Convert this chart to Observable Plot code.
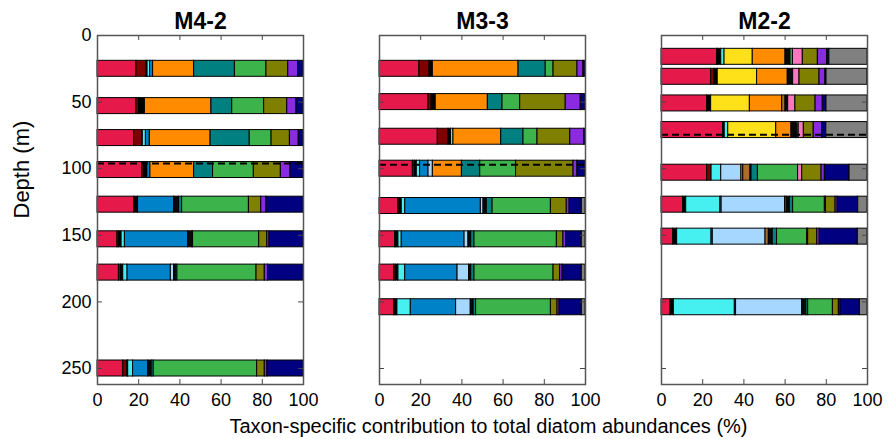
<!DOCTYPE html>
<html>
<head>
<meta charset="utf-8">
<script src="https://cdn.jsdelivr.net/npm/d3@7"></script>
<script src="https://cdn.jsdelivr.net/npm/@observablehq/plot@0.6"></script>
<style>
  html, body { margin: 0; padding: 0; background: #ffffff; }
  #chart svg { display: block; }
</style>
</head>
<body>
<div id="chart"></div>
<script>
// ---------- data ----------
const cores = ["M4-2", "M3-3", "M2-2"];

const taxa = [
  "Taxon 1", "Taxon 2", "Taxon 3", "Taxon 4", "Taxon 5", "Taxon 6",
  "Taxon 7", "Taxon 8", "Taxon 9", "Taxon 10", "Taxon 11", "Taxon 12",
  "Taxon 13", "Taxon 14", "Taxon 15", "Taxon 16", "Taxon 17"
];
const taxonColors = [
  "#e6194b", "#800000", "#000000", "#46f0f0", "#0082c8", "#a6d8ff",
  "#ffe119", "#ff8c00", "#aa6e28", "#0a0a0a", "#008080", "#3cb44b",
  "#f778bf", "#808000", "#8a2be2", "#000080", "#808080"
];

// depths (m) of each sample and share (%) of each taxon (order as in `taxa`)
const depthsM42 = [25, 53, 77, 101, 127, 153, 178, 250];
const sharesM42 = [
  [18.9, 4.9, 0.5, 1.2, 1.5, 0, 0, 19.9, 0, 0, 19.8, 15.3, 0, 10.6, 4.8, 2.6, 0],
  [18.9, 1.2, 2.9, 0, 0, 0, 0, 32.3, 0, 0, 10.1, 15.5, 0, 11.2, 4.5, 3.4, 0],
  [17.8, 3.9, 0.3, 1.5, 1.9, 0, 0, 29.5, 0, 0, 19.0, 10.6, 0, 8.9, 4.3, 2.3, 0],
  [21.7, 0.8, 1.3, 0.4, 1.5, 0, 0, 21.2, 0, 0, 9.2, 19.8, 0, 13.1, 4.7, 6.3, 0],
  [17.8, 0, 1.9, 0, 17.5, 0, 0, 0, 0, 2.4, 1.5, 32.4, 0, 6.0, 2.5, 18.0, 0],
  [9.7, 0.8, 1.2, 1.6, 30.7, 0, 0, 0, 0, 2.0, 0.4, 32.1, 0, 3.9, 1.1, 16.5, 0],
  [10.4, 1.0, 1.1, 2.1, 21.0, 1.6, 0, 0, 0, 0.8, 0.8, 38.4, 0, 4.0, 1.6, 17.2, 0],
  [12.5, 2.0, 0.4, 2.4, 7.3, 0, 0, 0, 0, 1.7, 1.0, 50.2, 0, 3.7, 1.3, 17.5, 0]
];

const depthsM33 = [25, 50, 76, 100, 128, 153, 178, 204];
const sharesM33 = [
  [19.4, 4.9, 1.6, 0, 0, 0, 0, 41.6, 0, 0, 13.2, 3.8, 0, 11.6, 2.9, 1.0, 0],
  [23.8, 1.5, 2.0, 0, 0, 0, 0, 25.3, 0, 0, 7.1, 8.6, 0, 22.1, 7.3, 2.3, 0],
  [28.3, 5.2, 1.2, 1.2, 0, 0, 0, 23.2, 0, 0, 10.8, 6.8, 0, 15.9, 6.8, 0.6, 0],
  [16.2, 1.0, 0.9, 1.6, 4.1, 2.1, 0, 14.1, 0, 0, 8.9, 17.4, 0, 27.9, 1.9, 3.9, 0],
  [9.2, 0.6, 1.0, 1.7, 36.7, 1.3, 0, 0, 0, 1.6, 2.8, 28.3, 0, 7.7, 1.4, 5.9, 1.8],
  [7.6, 0.6, 1.0, 1.6, 30.5, 1.9, 0, 0, 0, 1.3, 1.6, 40.0, 0, 3.2, 1.3, 7.6, 1.8],
  [7.1, 0.8, 1.3, 3.3, 25.4, 5.6, 0, 0, 0, 1.0, 1.6, 38.4, 0, 3.2, 1.2, 9.3, 1.8],
  [7.1, 0.6, 1.0, 6.5, 22.0, 7.1, 0, 0, 0, 1.4, 1.2, 36.3, 0, 3.2, 1.0, 10.8, 1.8]
];

const depthsM22 = [16, 31, 51, 71, 103, 127, 151, 204];
const sharesM22 = [
  [27.0, 0.5, 1.5, 1.6, 0, 0, 13.7, 15.9, 0, 2.4, 0, 1.2, 4.8, 7.3, 4.5, 1.1, 18.5],
  [24.1, 1.6, 1.6, 0, 0, 0, 19.1, 14.9, 0, 2.6, 0, 0, 3.1, 9.7, 2.9, 0.5, 19.8],
  [22.2, 0, 1.9, 0, 0, 0, 18.8, 15.7, 1.6, 1.3, 0, 0, 3.5, 9.8, 3.5, 1.8, 19.9],
  [29.9, 0, 0.8, 1.7, 0, 0, 23.3, 7.4, 0, 2.4, 0.5, 0.6, 2.5, 4.8, 4.1, 2.0, 20.0],
  [22.2, 2.1, 0, 4.7, 0, 9.8, 0, 0.9, 3.5, 0.5, 3.1, 19.5, 2.0, 9.4, 1.6, 12.0, 8.7],
  [10.5, 0, 1.5, 16.6, 0.6, 30.8, 0, 0, 0.8, 1.5, 1.6, 15.4, 0.5, 4.7, 1.0, 10.0, 4.5],
  [5.7, 0, 1.9, 16.7, 0.6, 25.6, 0, 0, 1.6, 1.9, 2.1, 14.6, 0.5, 4.4, 1.2, 18.5, 4.7],
  [4.4, 0, 1.6, 29.6, 0.6, 32.1, 0, 0, 0, 2.0, 0.9, 12.0, 0, 2.9, 0.8, 9.4, 3.7]
];

// dashed reference depth per core (m)
const dashedDepths = [96, 97, 74.5];

const xTicks = [0, 20, 40, 60, 80, 100];
const yTicks = [0, 50, 100, 150, 200, 250];
const xLabel = "Taxon-specific contribution to total diatom abundances (%)";
const yLabel = "Depth (m)";

// ---------- build tables ----------
const coreDepths = [depthsM42, depthsM33, depthsM22];
const coreShares = [sharesM42, sharesM33, sharesM22];
const rows = [];
cores.forEach((core, c) => {
  coreDepths[c].forEach((depth, i) => {
    coreShares[c][i].forEach((v, j) => {
      if (v > 0) rows.push({core, depth, taxon: taxa[j], value: v});
    });
  });
});
const dashed = cores.map((core, i) => ({core, depth: dashedDepths[i]}));

const halfBar = 6; // m
const yMax = 262;
const font = "'Liberation Sans', Arial, Helvetica, sans-serif";

const chart = Plot.plot({
  width: 893,
  height: 439,
  marginLeft: 96,
  marginRight: 26,
  marginTop: 35,
  marginBottom: 55,
  style: {fontFamily: font, background: "#ffffff", color: "#000000", overflow: "visible"},
  fx: {domain: cores, paddingInner: 0.27, paddingOuter: 0, label: null},
  x: {domain: [0, 100]},
  y: {domain: [0, yMax], reverse: true},
  color: {domain: taxa, range: taxonColors},
  marks: [
    Plot.rect(rows, Plot.stackX({
      fx: "core",
      x: "value",
      y1: d => d.depth - halfBar,
      y2: d => d.depth + halfBar,
      fill: "taxon",
      stroke: "#000",
      strokeWidth: 1
    })),
    Plot.ruleY(dashed, {fx: "core", y: "depth", stroke: "#000", strokeWidth: 2, strokeDasharray: "7,4"}),
    // inward tick marks on all four sides
    Plot.ruleY(yTicks, {y: d => d, x1: 0, x2: 2.4, stroke: "#444", strokeWidth: 1}),
    Plot.ruleY(yTicks, {y: d => d, x1: 97.6, x2: 100, stroke: "#444", strokeWidth: 1}),
    Plot.ruleX(xTicks, {x: d => d, y1: yMax, y2: yMax - 3.7, stroke: "#444", strokeWidth: 1}),
    Plot.ruleX(xTicks, {x: d => d, y1: 0, y2: 3.7, stroke: "#444", strokeWidth: 1}),
    Plot.frame({stroke: "#555", strokeWidth: 1.5}),
    Plot.axisY({ticks: yTicks, anchor: "left", tickSize: 0, tickPadding: 6, fontSize: 18, label: null}),
    Plot.axisX({ticks: xTicks, anchor: "bottom", tickSize: 0, tickPadding: 9, fontSize: 18, label: null}),
    Plot.axisFx({anchor: "top", tickSize: 0, tickPadding: 7, fontSize: 23, fontWeight: "bold", label: null}),
    Plot.text([xLabel], {
      fx: () => cores[1], text: d => d, frameAnchor: "bottom",
      lineAnchor: "top", dy: 34, dx: 6, fontSize: 20
    }),
    Plot.text([yLabel], {
      fx: () => cores[0], text: d => d, frameAnchor: "left",
      rotate: -90, lineAnchor: "bottom", dx: -68.5, dy: 8.5, fontSize: 22
    })
  ]
});

document.getElementById("chart").appendChild(chart);
</script>
</body>
</html>
